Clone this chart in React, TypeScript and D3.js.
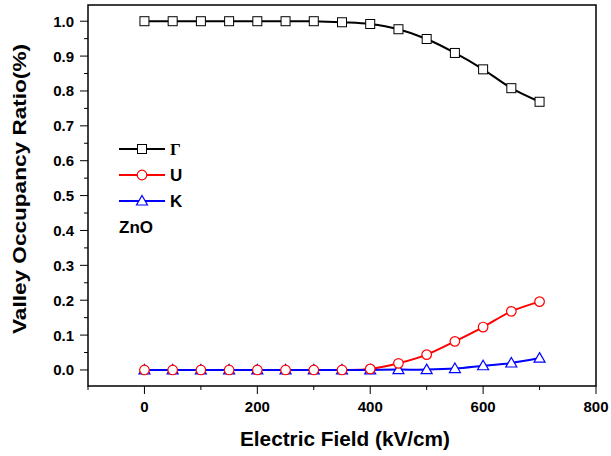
import React from "react";
import * as d3 from "d3";

const fields = [0, 50, 100, 150, 200, 250, 300, 350, 400, 450, 500, 550, 600, 650, 700];
const gammaVals = [1.0, 1.0, 1.0, 1.0, 1.0, 1.0, 1.0, 0.997, 0.992, 0.977, 0.949, 0.909, 0.862, 0.808, 0.769];
const uVals = [0, 0, 0, 0, 0, 0, 0, 0, 0.003, 0.019, 0.044, 0.082, 0.123, 0.168, 0.196];
const kVals = [0, 0, 0, 0, 0, 0, 0, 0, 0, 0.001, 0.001, 0.004, 0.012, 0.02, 0.034];
const xTicks = [0, 200, 400, 600, 800];
const yTicks = [0, 0.1, 0.2, 0.3, 0.4, 0.5, 0.6, 0.7, 0.8, 0.9, 1.0];
const seriesNames = ["Γ", "U", "K"];
const seriesColors = ["#000000", "#ff0000", "#0000ff"];
const seriesMarkers = ["square", "circle", "triangle"];
const sampleLabel = "ZnO";

const W = 611, H = 456;
const L = 88, R = 596, T = 5, B = 386;
const FONT = "'Liberation Sans', Arial, sans-serif";

function Marker({ kind, x, y, color }: { kind: string; x: number; y: number; color: string }) {
  if (kind === "square") return <rect x={x - 4.5} y={y - 4.5} width={9} height={9} fill="#fff" stroke={color} strokeWidth={1} />;
  if (kind === "circle") return <circle cx={x} cy={y} r={4.8} fill="#fff" stroke={color} strokeWidth={1.2} />;
  return <path d={`M${x},${y - 5.5}L${x + 5.5},${y + 4}L${x - 5.5},${y + 4}Z`} fill="#fff" stroke={color} strokeWidth={1.2} />;
}

export default function App() {
  const x = d3.scaleLinear().domain([-100, 800]).range([L, R]);
  const y = d3.scaleLinear().domain([-0.046, 1.0465]).range([B, T]);
  const all = [gammaVals, uVals, kVals];
  const line = d3.line<[number, number]>().x(d => x(d[0])).y(d => y(d[1])).curve(d3.curveCatmullRom.alpha(0.5));
  const xMinor = d3.range(-100, 801, 100);
  const yMinor = d3.range(0, 1.001, 0.05);
  const order = [2, 1, 0];
  return (
    <svg width={W} height={H} style={{ position: "absolute", left: 0, top: 0, background: "#fff" }} fontFamily={FONT}>
      <rect x={0} y={0} width={W} height={H} fill="#fff" />
      {/* data */}
      {[0, 1, 2].map(i => (
        <path key={"l" + i} d={line(fields.map((f, j) => [f, all[i][j]] as [number, number])) || ""} fill="none" stroke={seriesColors[i]} strokeWidth={2} />
      ))}
      {order.map(i => fields.map((f, j) => (
        <Marker key={`m${i}-${j}`} kind={seriesMarkers[i]} x={x(f)} y={y(all[i][j])} color={seriesColors[i]} />
      )))}
      {/* frame */}
      <rect x={L} y={T} width={R - L} height={B - T} fill="none" stroke="#000" strokeWidth={1.5} />
      {/* x ticks */}
      {xMinor.map(v => (
        <line key={"xm" + v} x1={x(v)} x2={x(v)} y1={B} y2={B + (v % 200 === 0 ? 8 : 4)} stroke="#000" strokeWidth={1} />
      ))}
      {xTicks.map(v => (
        <text key={"xt" + v} x={x(v)} y={411.5} textAnchor="middle" fontSize={15} fontWeight="bold">{v}</text>
      ))}
      {/* y ticks */}
      {yMinor.map((v, k) => (
        <line key={"ym" + k} x1={L} x2={L - (k % 2 === 0 ? 8 : 4)} y1={y(v)} y2={y(v)} stroke="#000" strokeWidth={1} />
      ))}
      {yTicks.map(v => (
        <text key={"yt" + v} x={74} y={y(v) + 5.5} textAnchor="end" fontSize={15} fontWeight="bold">{v.toFixed(1)}</text>
      ))}
      {/* axis titles */}
      <text x={345} y={446} textAnchor="middle" fontSize={20} fontWeight="bold" textLength={210} lengthAdjust="spacingAndGlyphs">Electric Field (kV/cm)</text>
      <text transform={`translate(25.5,189) rotate(-90)`} textAnchor="middle" fontSize={18.5} fontWeight="bold" textLength={290} lengthAdjust="spacingAndGlyphs">Valley Occupancy Ratio(%)</text>
      {/* legend */}
      {[0, 1, 2].map(i => {
        const ly = 149 + i * 26;
        return (
          <g key={"lg" + i}>
            <line x1={119} x2={165} y1={ly} y2={ly} stroke={seriesColors[i]} strokeWidth={2} />
            <Marker kind={seriesMarkers[i]} x={142} y={ly} color={seriesColors[i]} />
            <text x={170} y={ly + 6} fontSize={17} fontWeight="bold" fontFamily={i === 0 ? "'Liberation Serif', serif" : FONT}>{seriesNames[i]}</text>
          </g>
        );
      })}
      <text x={119} y={232.5} fontSize={17} fontWeight="bold">{sampleLabel}</text>
    </svg>
  );
}
